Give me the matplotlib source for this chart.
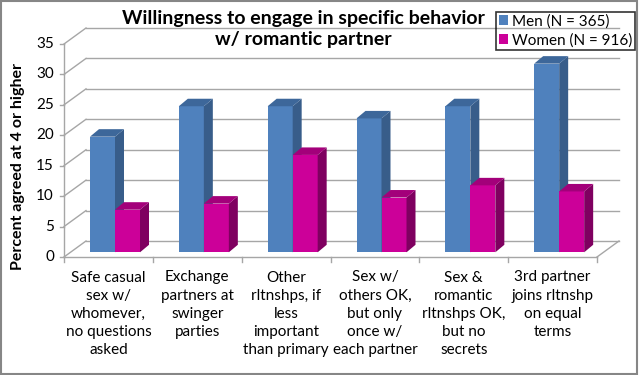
import matplotlib
matplotlib.use("Agg")
import matplotlib.pyplot as plt
from matplotlib.patches import Polygon, Rectangle

# ── Data ──────────────────────────────────────────────────────────────────────
categories = [
    "Safe casual\nsex w/\nwhomever,\nno questions\nasked",
    "Exchange\npartners at\nswinger\nparties",
    "Other\nrltnshps, if\nless\nimportant\nthan primary",
    "Sex w/\nothers OK,\nbut only\nonce w/\neach partner",
    "Sex &\nromantic\nrltnshps OK,\nbut no\nsecrets",
    "3rd partner\njoins rltnshp\non equal\nterms",
]
men = [19, 24, 24, 22, 24, 31]
women = [7, 8, 16, 9, 11, 10]
series_names = ["Men (N = 365)", "Women (N = 916)"]
y_ticks = [0, 5, 10, 15, 20, 25, 30, 35]

title = "Willingness to engage in specific behavior\nw/ romantic partner"
ylabel = "Percent agreed at 4 or higher"

# ── Style ─────────────────────────────────────────────────────────────────────
plt.rcParams["font.family"] = ["Lato", "DejaVu Sans"]
GRID = "#a6a6a6"
MEN_C = ("#4f81bd", "#385d8a", "#3d679a")     # front, side, top
WOM_C = ("#cc0099", "#7f0060", "#a3007a")

W, H = 639, 375
fig = plt.figure(figsize=(W / 100, H / 100), dpi=100)

# front plane of the 3D box, in pixels
x0, x1, y0, y1 = 64, 597, 257, 44
ax = fig.add_axes([x0 / W, 1 - y0 / H, (x1 - x0) / W, (y0 - y1) / H])
n = len(categories)
ax.set_xlim(0, n)
ax.set_ylim(0, 35)
ax.axis("off")

px_x = (x1 - x0) / n          # pixels per category
px_y = (y0 - y1) / 35         # pixels per unit
DX, DY = 22 / px_x, 16 / px_y         # floor depth
BDX, BDY = 9 / px_x, 7.5 / px_y       # bar depth
BASE = 4.7 / px_y                     # bars sit a bit behind the front edge
BW = 25 / px_x
OFF = 26 / px_x

line_kw = dict(color=GRID, lw=1.0, clip_on=False, zorder=1)

# back wall + left wall grid
for v in y_ticks:
    ax.plot([DX, n + DX], [v + DY, v + DY], **line_kw)
    ax.plot([0, DX], [v, v + DY], **line_kw)
    ax.plot([-4 / px_x, 0], [v, v], **line_kw)
    ax.text(-10 / px_x, v, str(v), ha="right", va="center", fontsize=11)

# floor front + right edge, axis line
ax.plot([0, n], [0, 0], **line_kw)
ax.plot([n, n + DX], [0, DY], **line_kw)
ax.plot([0, 0], [0, 35], **line_kw)
for i in range(n + 1):
    ax.plot([i, i], [0, -5 / px_y], **line_kw)

# ── Bars ──────────────────────────────────────────────────────────────────────
handles = []
for k, (vals, cols) in enumerate([(men, MEN_C), (women, WOM_C)]):
    xs = [i + OFF + k * BW for i in range(n)]
    bars = ax.bar(xs, vals, width=BW, bottom=BASE, align="edge",
                  color=cols[0], clip_on=False, zorder=3 + k)
    handles.append(bars)
    for x, v in zip(xs, vals):
        top = BASE + v
        side = [(x + BW, BASE), (x + BW + BDX, BASE + BDY),
                (x + BW + BDX, top + BDY), (x + BW, top)]
        lid = [(x, top), (x + BDX, top + BDY),
               (x + BW + BDX, top + BDY), (x + BW, top)]
        ax.add_patch(Polygon(side, closed=True, fc=cols[1], ec="none",
                             clip_on=False, zorder=3 + k))
        ax.add_patch(Polygon(lid, closed=True, fc=cols[2], ec="none",
                             clip_on=False, zorder=3 + k))

# category labels
for i, lab in enumerate(categories):
    ax.text(i + 0.5, -13.5 / px_y, lab, ha="center", va="top", fontsize=11,
            linespacing=1.38)

# ── Text, legend, border ─────────────────────────────────────────────────────
fig.text(303 / W, 1 - 29 / H, title, ha="center", va="center",
         fontsize=14, fontweight="bold", linespacing=1.25)
fig.text(18 / W, 1 - 166 / H, ylabel, ha="center", va="center",
         rotation=90, fontsize=11.5, fontweight="bold")

leg = ax.legend(handles, series_names, loc="upper right",
                bbox_to_anchor=(635 / W, 1 - 12 / H),
                bbox_transform=fig.transFigure, fontsize=11,
                handlelength=0.6, handleheight=0.6, handletextpad=0.3,
                borderpad=0.15, labelspacing=0.3, borderaxespad=0,
                fancybox=False, frameon=True)
leg.get_frame().set_edgecolor("black")
leg.get_frame().set_facecolor("none")
leg.get_frame().set_linewidth(1.2)

fig.patches.append(Rectangle((0.0015, 0.003), 0.996, 0.994,
                             transform=fig.transFigure, fill=False,
                             ec="#868686", lw=1.5))

fig.savefig("out.png", dpi=100)
